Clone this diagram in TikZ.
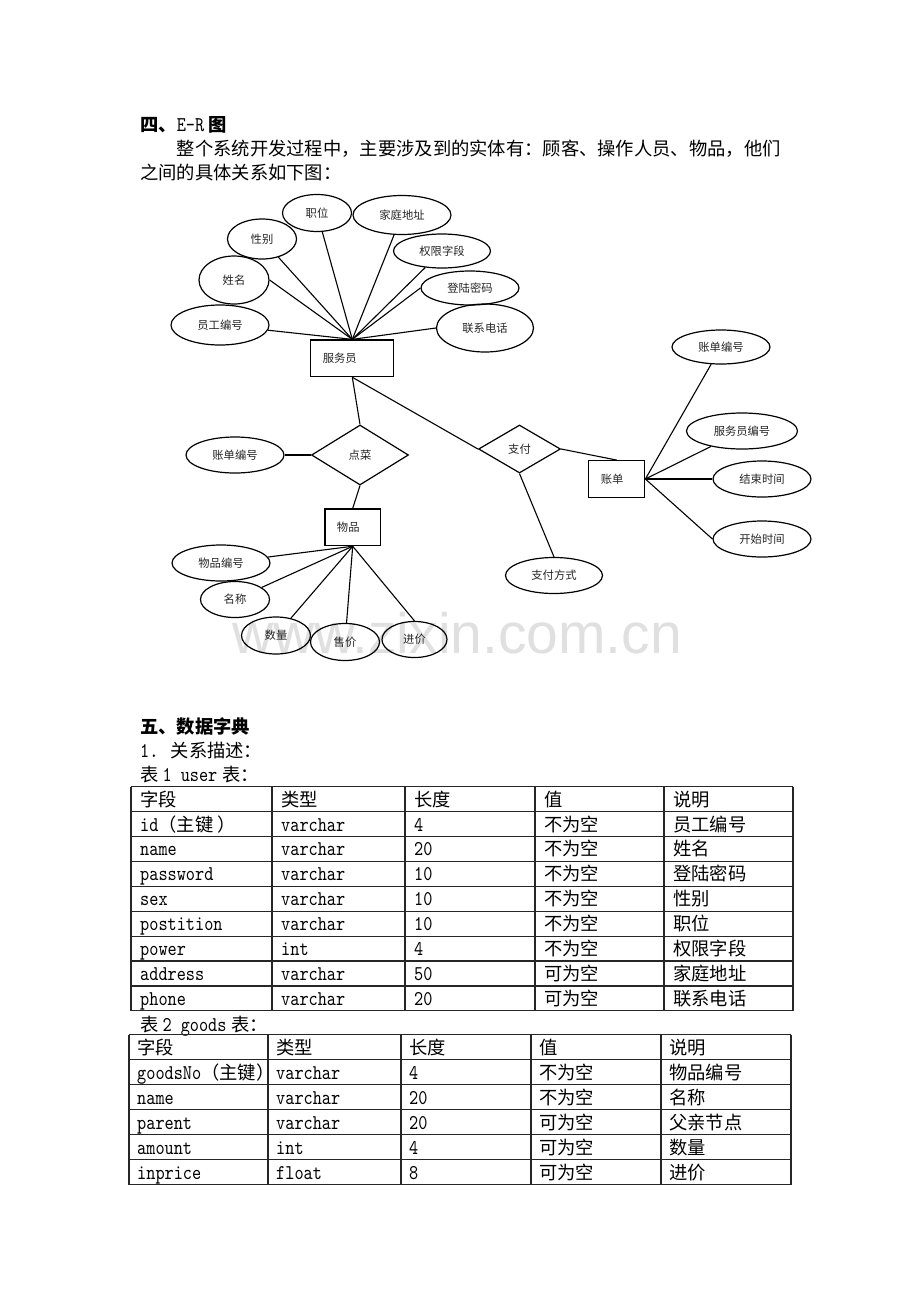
\documentclass[tikz,border=0pt]{standalone}
\usepackage{fontspec}
\setmainfont{Noto Sans CJK SC}
\newfontfamily\wmfont{Liberation Sans}
\newfontfamily\latf[Extension=.otf, FakeStretch=0.83]{lmmono10-regular}
\usetikzlibrary{shapes.geometric}
\newcommand\latn[1]{{\latf\fontsize{21}{22}\selectfont #1}}
\newcommand\erf{\fontsize{11.3}{13}\selectfont}
\newcommand\bodyf{\fontsize{18.3}{22}\selectfont}
\begin{document}
\begin{tikzpicture}[x=1pt,y=-1pt,
  txt/.style={anchor=base west, inner sep=0pt, font=\bodyf},
  attr/.style={ellipse, draw, line width=1.2pt, inner sep=0pt, font=\erf, text=black!85},
  ent/.style={rectangle, draw, line width=1.2pt, inner sep=0pt, inner xsep=12pt, align=left, font=\erf, text=black!85},
  rel/.style={diamond, draw, line width=1.2pt, inner sep=0pt, font=\erf, text=black!85},
  link/.style={line width=1.1pt},
  tline/.style={line width=1.2pt, draw=black!85}]
\fill[white] (0,0) rectangle (920,1302);
\useasboundingbox (0,0) rectangle (920,1302);

% watermark
\node[anchor=base west, inner sep=0pt, text=black!12, font=\wmfont\fontsize{57}{60}\selectfont] (wm) at (232,653) {www.zixin.com.cn};

% headings and body text
\node[txt, font=\bodyf\bfseries] (h4) at (140,131) {四、\latn{E-R} 图};
\node[txt] (p1) at (176.6,155) {整个系统开发过程中，主要涉及到的实体有：顾客、操作人员、物品，他们};
\node[txt] (p2) at (140,179) {之间的具体关系如下图：};

% ER diagram: entities and relations
\node[ent, text width=59pt, minimum height=36.7pt] (waiter) at (352.3,358.3) {服务员};
\node[ent, text width=31.5pt, minimum height=36.7pt] (goods) at (352.7,527.3) {物品};
\node[ent, text width=32pt, minimum height=36.6pt] (bill) at (616.8,479) {账单};
\node[rel, minimum width=97pt, minimum height=60pt] (order) at (360,455) {点菜};
\node[rel, minimum width=82pt, minimum height=48pt] (pay) at (519.5,449) {支付};

% attributes
\node[attr, minimum width=69pt, minimum height=37pt] (zw) at (317,213) {职位};
\node[attr, minimum width=98pt, minimum height=39pt] (jt) at (402,215) {家庭地址};
\node[attr, minimum width=69pt, minimum height=40pt] (xb) at (262,239) {性别};
\node[attr, minimum width=97pt, minimum height=34pt] (qx) at (442,251) {权限字段};
\node[attr, minimum width=70pt, minimum height=48pt] (xm) at (234,280) {姓名};
\node[attr, minimum width=98pt, minimum height=34pt] (dl) at (470,288) {登陆密码};
\node[attr, minimum width=98pt, minimum height=40pt] (yg) at (220,325) {员工编号};
\node[attr, minimum width=97pt, minimum height=48pt] (lx) at (485,328) {联系电话};
\node[attr, minimum width=98pt, minimum height=34pt] (zdr) at (721,347) {账单编号};
\node[attr, minimum width=111pt, minimum height=36pt] (fwb) at (742,431) {服务员编号};
\node[attr, minimum width=98pt, minimum height=36pt] (js) at (762,479) {结束时间};
\node[attr, minimum width=98pt, minimum height=36pt] (ks) at (762,539) {开始时间};
\node[attr, minimum width=98pt, minimum height=36pt] (zdl) at (235,455) {账单编号};
\node[attr, minimum width=97pt, minimum height=36pt] (zff) at (554,575.5) {支付方式};
\node[attr, minimum width=98pt, minimum height=36pt] (wpb) at (221,563) {物品编号};
\node[attr, minimum width=69pt, minimum height=36pt] (mc) at (235,599.5) {名称};
\node[attr, minimum width=69pt, minimum height=37pt] (sl) at (276,635.5) {数量};
\node[attr, minimum width=69pt, minimum height=37pt] (sj) at (345,642) {售价};
\node[attr, minimum width=65pt, minimum height=36pt] (jj) at (414.5,639.5) {进价};

% connectors
\foreach \a in {yg,xb,zw,jt,qx} \draw[link] (\a) -- (waiter.north);
\draw[link] (xm.east) -- (waiter.north);
\draw[link] (dl.west) -- (waiter.north);
\draw[link] (lx.west) -- (waiter.north);
\draw[link] (waiter.south) -- (order.north);
\draw[link] (waiter.south) -- (pay.west);
\draw[link] (pay.east) -- (bill.north);
\draw[link] (pay.south) -- (zff.north);
\draw[link] (zdl) -- (order.west);
\draw[link] (order.south) -- (goods.north);
\foreach \a in {wpb,mc,sl,sj} \draw[link] (\a) -- (goods.south);
\draw[link] (jj.north) -- (goods.south);
\foreach \a in {zdr,fwb,js} \draw[link] (\a) -- (bill.east);
\draw[link] (ks.west) -- (bill.east);

% section five
\node[txt, font=\bodyf\bfseries] (h5) at (140,733.5) {五、数据字典};
\node[txt] (s1) at (140,757) {\latn{1. }关系描述：};
\node[txt] (t1cap) at (140,781.5) {表\hspace{4pt}\latn{1 user}\hspace{5pt}表：};

% table 1
\foreach \x in {131,272,405,535,664,793} \draw[tline] (\x,786.7) -- (\x,{786.7+24.9*9});
\foreach \k in {0,...,9} \draw[tline] (131,{786.7+24.9*\k}) -- (793,{786.7+24.9*\k});
\foreach \ca/\cb/\cc/\cd/\ce [count=\i from 0] in {
  字段/类型/长度/值/说明,
  {\latn{id}（主键 ）}/{\latn{varchar}}/{\latn{4}}/不为空/员工编号,
  {\latn{name}}/{\latn{varchar}}/{\latn{20}}/不为空/姓名,
  {\latn{password}}/{\latn{varchar}}/{\latn{10}}/不为空/登陆密码,
  {\latn{sex}}/{\latn{varchar}}/{\latn{10}}/不为空/性别,
  {\latn{postition}}/{\latn{varchar}}/{\latn{10}}/不为空/职位,
  {\latn{power}}/{\latn{int}}/{\latn{4}}/不为空/权限字段,
  {\latn{address}}/{\latn{varchar}}/{\latn{50}}/可为空/家庭地址,
  {\latn{phone}}/{\latn{varchar}}/{\latn{20}}/可为空/联系电话}{
  \pgfmathsetmacro\yb{786.7+24.9*\i+19.45}
  \node[txt] (ua\i) at (140,\yb) {\ca};
  \node[txt] (ub\i) at (281,\yb) {\cb};
  \node[txt] (uc\i) at (414,\yb) {\cc};
  \node[txt] (ud\i) at (544,\yb) {\cd};
  \node[txt] (ue\i) at (673,\yb) {\ce};
}

% table 2
\node[txt] (t2cap) at (140,1031) {表\hspace{4pt}\latn{2 goods}\hspace{5pt}表：};
\foreach \x in {129,268,401,531,661,791} \draw[tline] (\x,1034.5) -- (\x,1184.5);
\foreach \k in {0,...,6} \draw[tline] (129,{1034.5+25*\k}) -- (791,{1034.5+25*\k});
\foreach \ca/\cb/\cc/\cd/\ce [count=\i from 0] in {
  字段/类型/长度/值/说明,
  {\latn{goodsNo}（主键）}/{\latn{varchar}}/{\latn{4}}/不为空/物品编号,
  {\latn{name}}/{\latn{varchar}}/{\latn{20}}/不为空/名称,
  {\latn{parent}}/{\latn{varchar}}/{\latn{20}}/可为空/父亲节点,
  {\latn{amount}}/{\latn{int}}/{\latn{4}}/可为空/数量,
  {\latn{inprice}}/{\latn{float}}/{\latn{8}}/可为空/进价}{
  \pgfmathsetmacro\yb{1034.5+25*\i+19.5}
  \node[txt] (ga\i) at (137,\yb) {\ca};
  \node[txt] (gb\i) at (276,\yb) {\cb};
  \node[txt] (gc\i) at (409,\yb) {\cc};
  \node[txt] (gd\i) at (539,\yb) {\cd};
  \node[txt] (ge\i) at (669,\yb) {\ce};
}
\end{tikzpicture}
\end{document}
